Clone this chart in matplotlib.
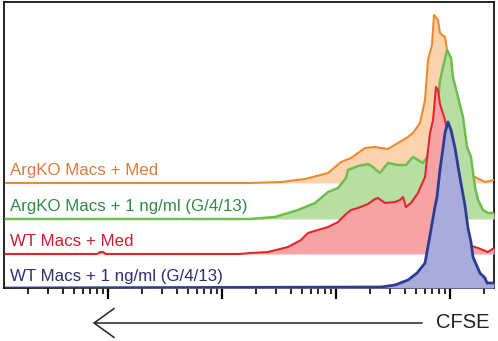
import numpy as np
import matplotlib
matplotlib.use("Agg")
import matplotlib.pyplot as plt
from matplotlib import font_manager

# CFSE intensity as log10 exponent, height = counts above each trace's own baseline
argko_med_x = [0.105, 2.246, 2.518, 2.728, 2.930, 3.044, 3.132, 3.254, 3.342, 3.456, 3.544,
               3.632, 3.675, 3.737, 3.781, 3.807, 3.842, 3.860, 3.895, 3.912, 3.956, 3.974,
               4.026, 4.070, 4.096, 4.140, 4.219, 4.307, 4.386]
argko_med_y = [0, 0, 1, 4, 10, 21, 25, 35, 36, 34, 40,
               46, 50, 60, 83, 123, 138, 168, 163, 150, 146, 133,
               96, 40, 10, 8, 6, 1, 3]

argko_g_x = [0.105, 2.246, 2.465, 2.667, 2.816, 2.930, 3.018, 3.088, 3.105, 3.193, 3.281,
             3.325, 3.351, 3.386, 3.456, 3.544, 3.614, 3.675, 3.719, 3.763, 3.825, 3.868,
             3.912, 3.939, 3.974, 4.009, 4.026, 4.070, 4.114, 4.149, 4.184, 4.219, 4.246,
             4.289, 4.333, 4.386]
argko_g_y = [0, 0, 2, 9, 16, 27, 31, 41, 49, 53, 55,
             52, 49, 46, 56, 54, 54, 62, 59, 56, 66, 92,
             138, 152, 169, 161, 142, 122, 102, 72, 62, 32, 19,
             9, 6, 6]

wt_med_x = [0.105, 0.904, 0.930, 0.956, 0.982, 2.158, 2.246, 2.404, 2.579, 2.693, 2.754,
            2.842, 2.930, 3.018, 3.079, 3.132, 3.193, 3.281, 3.342, 3.368, 3.430, 3.518,
            3.561, 3.588, 3.614, 3.658, 3.719, 3.781, 3.807, 3.825, 3.851, 3.877, 3.895,
            3.912, 3.956, 3.982, 4.070, 4.158, 4.246, 4.333, 4.386]
wt_med_y = [0, 0, 2, 2, 0, 0, 1, 2, 7, 14, 21,
            24, 27, 32, 39, 44, 46, 50, 55, 56, 51, 52,
            54, 57, 47, 51, 61, 77, 104, 121, 134, 167, 164,
            150, 134, 120, 60, 9, 6, 2, 6]

wt_g_x = [0.105, 3.395, 3.518, 3.632, 3.711, 3.781, 3.825, 3.868, 3.886, 3.912, 3.939,
          3.956, 3.982, 4.009, 4.044, 4.088, 4.132, 4.158, 4.184, 4.202, 4.263, 4.307,
          4.325, 4.386]
wt_g_y = [0, 1, 3, 8, 15, 25, 53, 81, 91, 118, 140,
          155, 166, 158, 140, 110, 82, 60, 46, 31, 15, 10,
          5, 5]

labels = ["ArgKO Macs + Med", "ArgKO Macs + 1 ng/ml (G/4/13)",
          "WT Macs + Med", "WT Macs + 1 ng/ml (G/4/13)"]
offsets = [105, 69, 34, 0]
line_colors = ["#EE8A2E", "#6DBF4B", "#E3262C", "#2E3B96"]
fill_colors = ["#FCD3AE", "#B8DEA4", "#F5A3A5", "#A9ABD9"]
text_colors = ["#E07B39", "#2F8C45", "#C8202F", "#2C2F6E"]
line_widths = [1.5, 1.8, 1.5, 2.0]

series = [(argko_med_x, argko_med_y), (argko_g_x, argko_g_y),
          (wt_med_x, wt_med_y), (wt_g_x, wt_g_y)]

fig = plt.figure(figsize=(4.98, 3.41), dpi=100)
ax = fig.add_axes([4 / 498, 53 / 341, 490 / 498, 286 / 341])

for i, (xs, ys) in enumerate(series):
    x = np.power(10.0, np.array(xs))
    base = offsets[i]
    y = base + np.array(ys)
    ax.fill_between(x, base, y, color=fill_colors[i], lw=0, zorder=2 + 2 * i)
    ax.plot(x, y, color=line_colors[i], lw=line_widths[i], zorder=3 + 2 * i,
            solid_joinstyle="round")
    ax.text(0.012, base + 12, labels[i], transform=ax.get_yaxis_transform(),
            color=text_colors[i], fontsize=12.2, family="Liberation Sans",
            va="center", ha="left", zorder=20)

ax.set_xscale("log")
ax.set_xlim(10 ** 0.088, 10 ** 4.386)
ax.set_ylim(0, 286)
ax.set_yticks([])
ax.tick_params(axis="x", which="major", direction="out", length=8, width=1.6,
               labelbottom=False)
ax.tick_params(axis="x", which="minor", direction="out", length=4, width=1.2,
               labelbottom=False)
for s in ax.spines.values():
    s.set_linewidth(1.2)

# arrow + CFSE label under the axis
ax.annotate("", xy=(90, 18), xytext=(425, 18), xycoords="figure pixels",
            textcoords="figure pixels",
            arrowprops=dict(arrowstyle="->,head_length=1.45,head_width=1.05",
                            lw=1.1, color="#222222", mutation_scale=10))
names = {f.name for f in font_manager.fontManager.ttflist}
if "Liberation Sans Narrow" in names:
    cfse_font = dict(family="Liberation Sans Narrow", fontsize=15)
else:
    cfse_font = dict(family="Liberation Sans", fontsize=14.5)
fig.text(463 / 498, 18 / 341, "CFSE", color="#222222",
         ha="center", va="center", **cfse_font)

fig.savefig("out.png", dpi=100)
